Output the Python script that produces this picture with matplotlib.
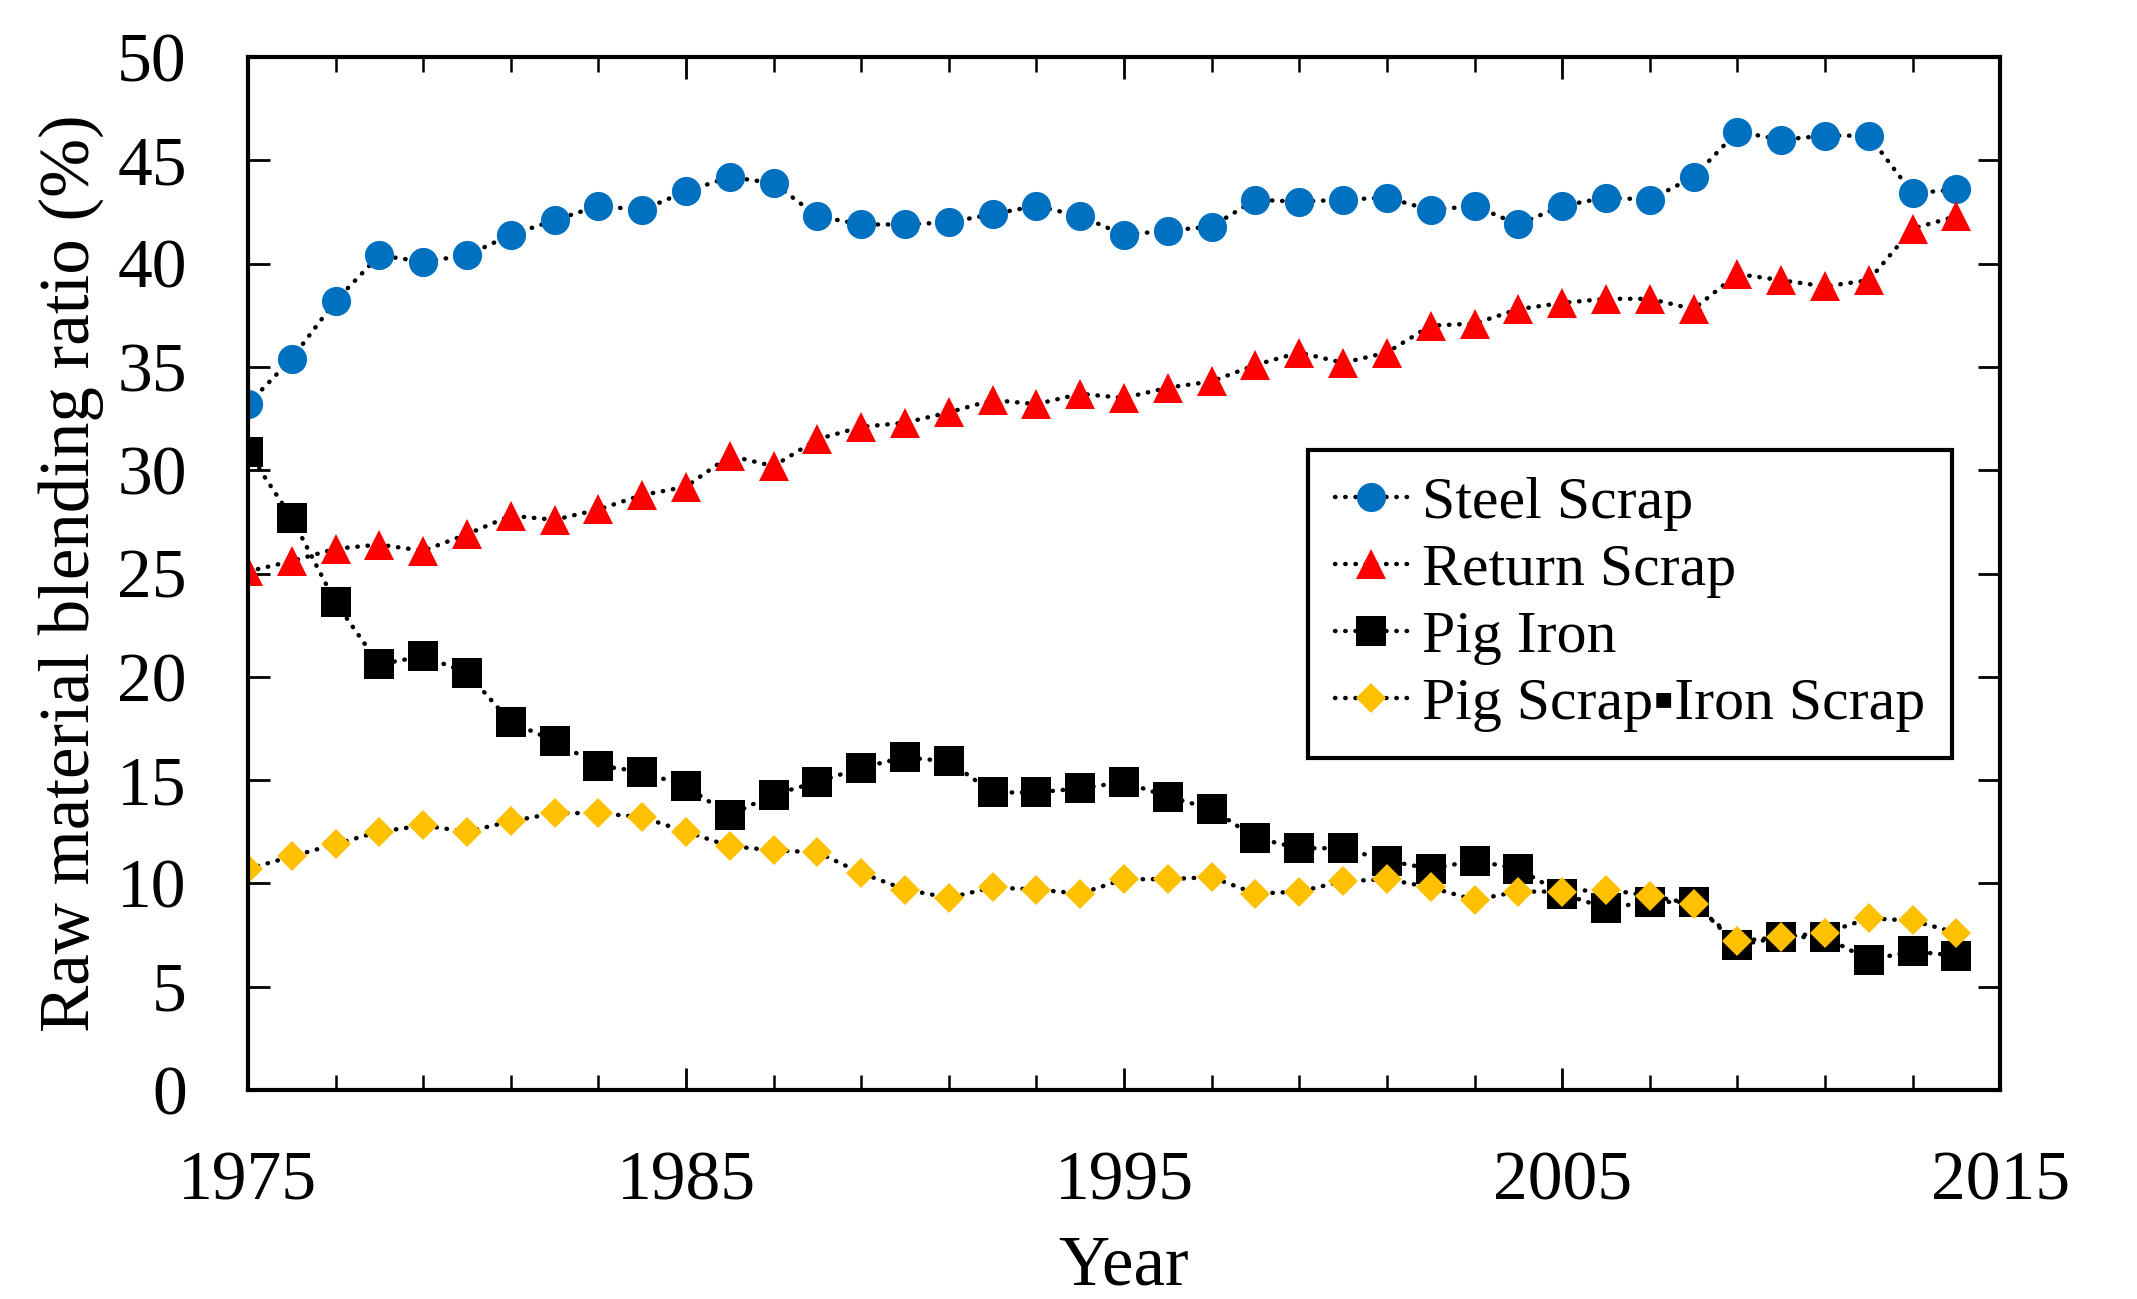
import numpy as np
import matplotlib.pyplot as plt
from matplotlib.ticker import MultipleLocator

plt.rcParams['font.family'] = ['Liberation Serif', 'DejaVu Sans']

years = np.arange(1975, 2015)

steel_scrap = [33.2, 35.4, 38.2, 40.4, 40.1, 40.4, 41.4, 42.1, 42.8, 42.6,
               43.5, 44.2, 43.9, 42.3, 41.9, 41.9, 42.0, 42.4, 42.8, 42.3,
               41.4, 41.6, 41.8, 43.1, 43.0, 43.1, 43.2, 42.6, 42.8, 41.9,
               42.8, 43.2, 43.1, 44.2, 46.4, 46.0, 46.2, 46.2, 43.4, 43.6]
return_scrap = [25.1, 25.6, 26.2, 26.4, 26.1, 26.9, 27.8, 27.6, 28.1, 28.8,
                29.2, 30.7, 30.2, 31.5, 32.1, 32.3, 32.8, 33.4, 33.2, 33.7,
                33.5, 34.0, 34.3, 35.1, 35.7, 35.2, 35.7, 37.0, 37.1, 37.8,
                38.1, 38.3, 38.3, 37.8, 39.5, 39.2, 38.9, 39.2, 41.7, 42.3]
pig_iron = [30.9, 27.7, 23.6, 20.6, 21.0, 20.2, 17.8, 16.9, 15.7, 15.4,
            14.7, 13.3, 14.3, 14.9, 15.6, 16.1, 15.9, 14.4, 14.4, 14.6,
            14.9, 14.2, 13.6, 12.2, 11.7, 11.7, 11.1, 10.7, 11.1, 10.7,
            9.5, 8.8, 9.1, 9.1, 7.0, 7.4, 7.4, 6.3, 6.7, 6.5]
pig_iron_scrap = [10.7, 11.3, 11.9, 12.5, 12.8, 12.5, 13.0, 13.4, 13.4, 13.2,
                  12.5, 11.8, 11.6, 11.5, 10.5, 9.7, 9.3, 9.8, 9.7, 9.5,
                  10.2, 10.2, 10.3, 9.5, 9.6, 10.1, 10.2, 9.8, 9.2, 9.6,
                  9.6, 9.7, 9.4, 9.0, 7.2, 7.4, 7.6, 8.3, 8.2, 7.6]

labels = ["Steel Scrap", "Return Scrap", "Pig Iron", "Pig Scrap\u25aaIron Scrap"]

fig = plt.figure(figsize=(21.37, 12.99), dpi=100)
ax = fig.add_axes([0.116, 0.161, 0.820, 0.795])

line_kw = dict(color="black", linewidth=3.2, linestyle=(0, (0.1, 2.2)),
               dash_capstyle="round", markeredgewidth=0)
ax.plot(years, steel_scrap, marker="o", markersize=21,
        markerfacecolor="#0070C0", label=labels[0], **line_kw)
ax.plot(years, return_scrap, marker="^", markersize=21,
        markerfacecolor="#FF0000", label=labels[1], **line_kw)
ax.plot(years, pig_iron, marker="s", markersize=21,
        markerfacecolor="black", label=labels[2], **line_kw)
ax.plot(years, pig_iron_scrap, marker="D", markersize=15,
        markerfacecolor="#FFC000", label=labels[3], **line_kw)

ax.set_xlim(1975, 2015)
ax.set_ylim(0, 50)
ax.xaxis.set_major_locator(MultipleLocator(10, offset=5))
ax.xaxis.set_minor_locator(MultipleLocator(2, offset=1))
ax.yaxis.set_major_locator(MultipleLocator(5))

for sp in ax.spines.values():
    sp.set_linewidth(3)
ax.tick_params(which="both", direction="in", top=True, right=True,
               labelsize=50, pad=44)
ax.tick_params(which="major", length=16, width=2)
ax.tick_params(which="minor", length=11, width=1.8)

ax.set_xlabel("Year", fontsize=51, va="center")
ax.xaxis.set_label_coords(0.5, -0.172)
ax.set_ylabel("Raw material blending ratio (%)", fontsize=51, va="center")
ax.yaxis.set_label_coords(-0.101, 0.5)

leg = ax.legend(loc="upper left", bbox_to_anchor=(0.605, 0.62), fontsize=43,
                frameon=True, fancybox=False, framealpha=1, edgecolor="black",
                handlelength=1.2, handletextpad=0.25, labelspacing=0.2,
                borderpad=0.45, borderaxespad=0)
leg.get_frame().set_linewidth(3)

fig.savefig("out.png", dpi=100)
